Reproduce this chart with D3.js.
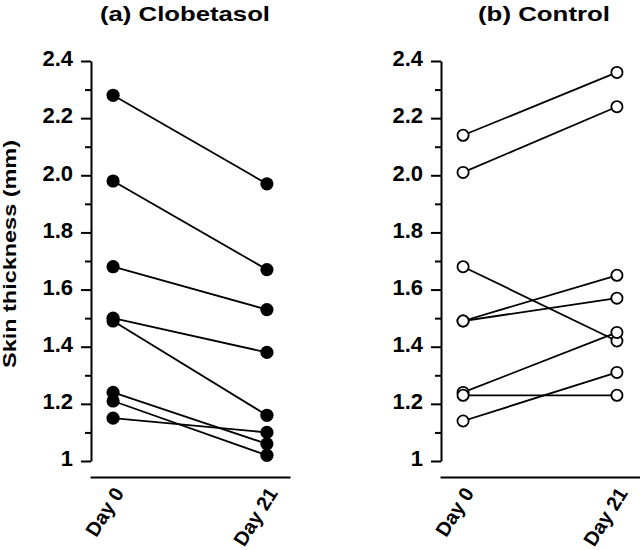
<!DOCTYPE html>
<html>
<head>
<meta charset="utf-8">
<script src="https://cdn.jsdelivr.net/npm/d3@7/dist/d3.min.js"></script>
<style>
  html, body { margin: 0; padding: 0; background: #ffffff; }
  svg { display: block; }
  text { font-family: "Liberation Sans", Arial, Helvetica, sans-serif; font-weight: bold; fill: #000; }
</style>
</head>
<body>
<svg id="chart" width="640" height="550"></svg>
<script>
// ---- data ----
const days = ["Day 0", "Day 21"];
const yTickValues = [1, 1.2, 1.4, 1.6, 1.8, 2.0, 2.2, 2.4];
const yTickLabels = ["1", "1.2", "1.4", "1.6", "1.8", "2.0", "2.2", "2.4"];
const yMinorTicks = [1.1, 1.3, 1.5, 1.7, 1.9, 2.1, 2.3];
const titles = ["(a) Clobetasol", "(b) Control"];
const yLabel = "Skin thickness (mm)";

const clobetasolDay0  = [2.28, 1.98, 1.68, 1.50, 1.49, 1.24, 1.21, 1.15];
const clobetasolDay21 = [1.97, 1.67, 1.53, 1.38, 1.16, 1.06, 1.02, 1.10];
const controlDay0     = [2.14, 2.01, 1.68, 1.49, 1.49, 1.24, 1.23, 1.14];
const controlDay21    = [2.36, 2.24, 1.42, 1.65, 1.57, 1.45, 1.23, 1.31];

const panels = [
  { title: titles[0], d0: clobetasolDay0, d21: clobetasolDay21, filled: true, ox: 0, titleX: 185, titleLen: 170 },
  { title: titles[1], d0: controlDay0, d21: controlDay21, filled: false, ox: 350, titleX: 544, titleLen: 132 }
];

const svg = d3.select("#chart");

const y = d3.scaleLinear().domain([1, 2.4]).range([461, 61]);

panels.forEach((p) => {
  const g = svg.append("g").attr("transform", `translate(${p.ox},0)`);
  const x = d3.scalePoint().domain(days).range([90, 290]).padding(0.15);

  // y axis major
  const yAxis = d3.axisLeft(y)
    .tickValues(yTickValues)
    .tickFormat((d, i) => yTickLabels[i])
    .tickSize(10).tickSizeOuter(0).tickPadding(8);
  const ya = g.append("g").attr("transform", "translate(91,0)").call(yAxis);
  ya.select(".domain").attr("stroke", "#000").attr("stroke-width", 2);
  ya.selectAll(".tick line").attr("stroke", "#000").attr("stroke-width", 2);
  ya.selectAll(".tick text")
    .attr("font-size", 22).attr("dy", "0.22em")
    .style("font-family", "'Liberation Sans', Arial, sans-serif").style("font-weight", "bold");

  // y axis minor
  const yMinor = d3.axisLeft(y).tickValues(yMinorTicks).tickFormat("").tickSize(6).tickSizeOuter(0);
  const ym = g.append("g").attr("transform", "translate(91,0)").call(yMinor);
  ym.select(".domain").remove();
  ym.selectAll(".tick line").attr("stroke", "#000").attr("stroke-width", 2);

  // x axis
  const xAxis = d3.axisBottom(x).tickSize(0).tickSizeOuter(0).tickPadding(0);
  const xa = g.append("g").attr("transform", "translate(0,477)").call(xAxis);
  xa.select(".domain").attr("stroke", "#000").attr("stroke-width", 2);
  xa.selectAll(".tick text")
    .attr("font-size", 20)
    .attr("text-anchor", "end")
    .attr("dy", 0)
    .attr("y", 0)
    .attr("transform", "translate(11,16) rotate(-58)")
    .style("font-family", "'Liberation Sans', Arial, sans-serif").style("font-weight", "bold");

  // lines
  const pairs = p.d0.map((v, i) => [v, p.d21[i]]);
  g.append("g").selectAll("line").data(pairs).join("line")
    .attr("x1", x(days[0])).attr("x2", x(days[1]))
    .attr("y1", d => y(d[0])).attr("y2", d => y(d[1]))
    .attr("stroke", "#000").attr("stroke-width", 1.8);

  // points
  const pts = [];
  pairs.forEach(d => { pts.push({ day: days[0], v: d[0] }); pts.push({ day: days[1], v: d[1] }); });
  g.append("g").selectAll("circle").data(pts).join("circle")
    .attr("cx", d => x(d.day)).attr("cy", d => y(d.v))
    .attr("r", p.filled ? 6.6 : 5.6)
    .attr("fill", p.filled ? "#000" : "#fff")
    .attr("stroke", "#000").attr("stroke-width", p.filled ? 0 : 1.8);

  // title
  svg.append("text")
    .attr("x", p.titleX).attr("y", 21)
    .attr("text-anchor", "middle")
    .attr("font-size", 21)
    .attr("textLength", p.titleLen)
    .attr("lengthAdjust", "spacingAndGlyphs")
    .text(p.title);
});

// y label
svg.append("text")
  .attr("transform", "translate(16,254) rotate(-90)")
  .attr("text-anchor", "middle")
  .attr("font-size", 19)
  .attr("textLength", 228)
  .attr("lengthAdjust", "spacingAndGlyphs")
  .text(yLabel);
</script>
</body>
</html>
